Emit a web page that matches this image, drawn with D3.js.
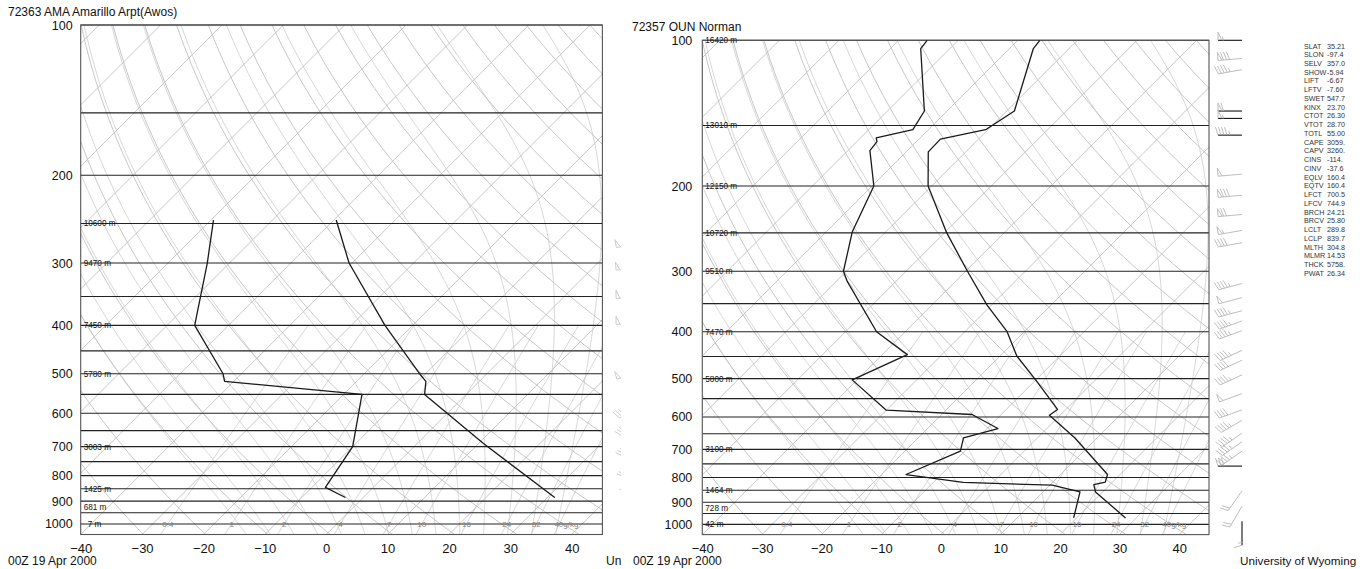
<!DOCTYPE html>
<html><head><meta charset="utf-8">
<script src="https://cdn.jsdelivr.net/npm/d3@7"></script>
<style>body{margin:0;background:#fff}svg{display:block;font-family:"Liberation Sans",Arial,Helvetica,sans-serif}</style>
</head><body><script>
// ---------------- DATA ----------------
const pressureTicks = [100, 200, 300, 400, 500, 600, 700, 800, 900, 1000];
const tempTicks = [-40, -30, -20, -10, 0, 10, 20, 30, 40];
const isobarLevels = [100, 150, 200, 250, 300, 350, 400, 450, 500, 550, 600, 650, 700, 750, 800, 850, 900, 950, 1000];
const mixingRatios = [0.4, 1, 2, 4, 7, 10, 16, 24, 32, 40];
const mixingLabels = ["0.4", "1", "2", "4", "7", "10", "16", "24", "32", "40g/kg"];

// Amarillo (72363)
const amaTitle = "72363 AMA Amarillo Arpt(Awos)";
const amaTempP = [246, 300, 400, 503, 518, 550, 690, 885];
const amaTempT = [-49.6, -40.5, -24.5, -10.6, -8.7, -6.8, 10.8, 31.2];
const amaDewP = [246, 300, 400, 500, 518, 550, 700, 845, 885];
const amaDewT = [-69.6, -63.6, -55.5, -43.0, -41.5, -17.0, -10.0, -7.8, -2.9];
const amaHgtP = [250, 300, 400, 500, 700, 850, 925, 1000];
const amaHgt = ["10600 m", "9470 m", "7450 m", "5780 m", "3003 m", "1425 m", "681 m", "7 m"];
const amaWindP = [274, 307, 353, 398, 498, 580, 620, 677, 740, 781, 846, 898];
const amaWindDir = [260, 265, 270, 270, 255, 240, 230, 225, 220, 210, 200, 190];
const amaWindSpd = [50, 50, 50, 50, 50, 45, 40, 35, 30, 25, 20, 20];

// Norman (72357)
const ounTitle = "72357 OUN Norman";
const ounTempP = [100, 104, 140, 153, 160, 170, 200, 250, 300, 352, 400, 449, 504, 579, 595, 663, 789, 818, 828, 857, 970];
const ounTempT = [-66.3, -66.0, -58.7, -60.4, -66.4, -66.3, -60.6, -49.6, -39.7, -30.8, -22.9, -17.2, -9.9, -1.4, -1.8, 6.3, 17.9, 18.8, 17.3, 18.8, 28.2];
const ounDewP = [100, 104, 140, 153, 159, 162, 169, 200, 249, 300, 314, 400, 446, 503, 581, 593, 634, 663, 706, 789, 819, 830, 857, 970];
const ounDewT = [-85.2, -84.9, -73.8, -72.6, -77.4, -76.6, -76.3, -69.7, -65.6, -60.5, -58.3, -44.8, -35.8, -40.8, -30.0, -14.9, -8.2, -12.4, -10.7, -15.9, -5.0, 10.4, 16.2, 19.5];
const ounHgtP = [100, 150, 200, 250, 300, 400, 500, 700, 850, 925, 1000];
const ounHgt = ["16420 m", "13010 m", "12150 m", "10720 m", "9510 m", "7470 m", "5800 m", "3100 m", "1464 m", "728 m", "42 m"];
const ounWindP = [100, 109, 115, 140, 145, 157, 189, 209, 229, 247, 262, 318, 340, 362, 380, 398, 437, 458, 491, 537, 580, 610, 648, 675, 706, 758, 853, 917, 985];
const ounWindDir = [270, 265, 260, 270, 270, 270, 265, 265, 265, 260, 260, 255, 255, 255, 250, 250, 245, 245, 245, 250, 250, 240, 235, 235, 235, 270, 215, 210, 180];
const ounWindSpd = [55, 80, 45, 60, 55, 45, 50, 80, 70, 55, 40, 45, 50, 45, 45, 45, 45, 40, 45, 50, 40, 45, 45, 45, 45, 30, 20, 20, 15];

const idxNames = ["SLAT","SLON","SELV","SHOW","LIFT","LFTV","SWET","KINX","CTOT","VTOT","TOTL","CAPE","CAPV","CINS","CINV","EQLV","EQTV","LFCT","LFCV","BRCH","BRCV","LCLT","LCLP","MLTH","MLMR","THCK","PWAT"];
const idxValues = ["35.21","-97.4","357.0","-5.94","-6.67","-7.60","547.7","23.70","26.30","28.70","55.00","3059.","3260.","-114.","-37.6","160.4","160.4","700.5","744.9","24.21","25.80","289.8","839.7","304.8","14.53","5758.","26.34"];

const dateText = "00Z 19 Apr 2000";
const creditText = "University of Wyoming";
const creditCut = "Un";

// ---------------- PHYSICS HELPERS ----------------
const Rd = 287.04, Cp = 1005.7, Lv = 2.501e6, EPS = 0.622;
function esat(Tc) { return 6.112 * Math.exp(17.67 * Tc / (Tc + 243.5)); }
function dTdp(p, T) {
  const Tc = T - 273.15, es = esat(Tc), rs = EPS * es / (p - es);
  return (Rd * T + Lv * rs) / (p * (Cp + Lv * Lv * rs * EPS / (Rd * T * T)));
}
function moistPath(T0) {
  const up = [], down = [];
  let p = 1000, T = T0 + 273.15;
  up.push([p, T0]);
  while (p > 100) { const h = -5; const k1 = dTdp(p, T); const k2 = dTdp(p + h / 2, T + k1 * h / 2); T += k2 * h; p += h; up.push([p, T - 273.15]); }
  p = 1000; T = T0 + 273.15;
  while (p < 1050) { const h = 5; const k1 = dTdp(p, T); const k2 = dTdp(p + h / 2, T + k1 * h / 2); T += k2 * h; p += h; down.push([p, T - 273.15]); }
  return down.reverse().concat(up);
}
function tdFromW(w, p) { const e = w * p / (622 + w); const l = Math.log(e / 6.112); return 243.5 * l / (17.67 - l); }

// ---------------- DRAW ----------------
const W = 1364, H = 569;
const svg = d3.select("body").append("svg").attr("width", W).attr("height", H);
svg.append("rect").attr("width", W).attr("height", H).attr("fill", "#fff");
const defs = svg.append("defs");

function barb(g, sx, sy, dir, spd, color, dark) {
  const L = 24, bl = 8;
  const rad = dir * Math.PI / 180;
  const ux = Math.sin(rad), uy = -Math.cos(rad);
  const px = -uy, py = ux;
  const tx = sx + ux * L, ty = sy + uy * L;
  g.append("line").attr("x1", sx).attr("y1", sy).attr("x2", tx).attr("y2", ty)
    .attr("stroke", dark ? "#111" : color).attr("stroke-width", dark ? 1.1 : 0.9);
  let rem = Math.round(spd / 5) * 5, pos = 0;
  while (rem >= 50) {
    const ax = tx - ux * pos, ay = ty - uy * pos;
    const bx = tx - ux * (pos + 4), by = ty - uy * (pos + 4);
    g.append("path").attr("d", `M${ax},${ay}L${ax + px * bl},${ay + py * bl}L${bx},${by}`)
      .attr("fill", "none").attr("stroke", color).attr("stroke-width", 0.9);
    pos += 5.5; rem -= 50;
  }
  while (rem >= 10) {
    const ax = tx - ux * pos, ay = ty - uy * pos;
    g.append("line").attr("x1", ax).attr("y1", ay).attr("x2", ax + px * bl + ux * 2.5).attr("y2", ay + py * bl + uy * 2.5)
      .attr("stroke", color).attr("stroke-width", 0.9);
    pos += 3; rem -= 10;
  }
  if (rem >= 5) {
    if (pos === 0) pos = 3;
    const ax = tx - ux * pos, ay = ty - uy * pos;
    g.append("line").attr("x1", ax).attr("y1", ay).attr("x2", ax + px * bl / 2 + ux * 1.2).attr("y2", ay + py * bl / 2 + uy * 1.2)
      .attr("stroke", color).attr("stroke-width", 0.9);
  }
}

function drawPanel(g, cfg, d) {
  const y = d3.scaleLog().domain([100, 1050]).range([cfg.yTop, cfg.yBot]);
  const x = d3.scaleLinear().domain([-40, 45]).range([cfg.x0, cfg.x1]);
  const X = (T, p) => x(T) + (cfg.yBot - y(p));
  const line = d3.line().x(v => X(v[1], v[0])).y(v => y(v[0]));
  const cid = "clip-" + cfg.id;
  defs.append("clipPath").attr("id", cid).append("rect")
    .attr("x", cfg.x0).attr("y", cfg.yTop).attr("width", cfg.x1 - cfg.x0).attr("height", cfg.yBot - cfg.yTop);
  const grid = g.append("g").attr("clip-path", `url(#${cid})`).attr("fill", "none");
  const plevs = d3.range(1050, 100, -10).concat([100]);

  // moist adiabats
  d3.range(-16, 37, 4).forEach(t0 => {
    grid.append("path").attr("d", line(moistPath(t0))).attr("stroke", "#cdcdcd").attr("stroke-width", 0.8);
  });
  // mixing ratio lines
  mixingRatios.forEach(w => {
    const pts = d3.range(1050, 399, -10).map(p => [p, tdFromW(w, p)]);
    grid.append("path").attr("d", line(pts)).attr("stroke", "#cdcdcd").attr("stroke-width", 0.8);
  });
  // dry adiabats
  d3.range(230, 481, 10).forEach(th => {
    const pts = plevs.map(p => [p, th * Math.pow(p / 1000, 0.2857) - 273.15]);
    grid.append("path").attr("d", line(pts)).attr("stroke", "#bdbdbd").attr("stroke-width", 0.85);
  });
  // isotherms
  d3.range(-130, 50, 10).forEach(T => {
    grid.append("path").attr("d", line([[1050, T], [100, T]])).attr("stroke", "#bdbdbd").attr("stroke-width", 0.85);
  });
  // isobars
  isobarLevels.forEach(p => {
    g.append("line").attr("x1", cfg.x0).attr("x2", cfg.x1).attr("y1", y(p)).attr("y2", y(p))
      .attr("stroke", "#222").attr("stroke-width", 1.1);
  });
  // frame
  g.append("rect").attr("x", cfg.x0).attr("y", cfg.yTop).attr("width", cfg.x1 - cfg.x0).attr("height", cfg.yBot - cfg.yTop)
    .attr("fill", "none").attr("stroke", "#555").attr("stroke-width", 1.1);

  // height labels
  d.hgtP.forEach((p, i) => {
    g.append("text").attr("x", cfg.x0 + 3 + (d.hgt[i].length <= 3 ? 4 : 0)).attr("y", y(p)).attr("dy", "0.35em")
      .attr("font-size", 8.2).attr("fill", "#111").text(d.hgt[i]);
  });
  // mixing ratio labels
  mixingRatios.forEach((w, i) => {
    const t = g.append("text").attr("y", y(1000)).attr("dy", "0.35em").attr("font-size", 8).attr("fill", "#858585");
    const xc = X(tdFromW(w, 1000), 1000);
    if (i === mixingRatios.length - 1) t.attr("x", xc - 5).attr("text-anchor", "start");
    else t.attr("x", xc).attr("text-anchor", "middle");
    t.text(mixingLabels[i]);
  });

  // profiles
  const prof = g.append("g").attr("fill", "none").attr("stroke", "#1a1a1a").attr("stroke-width", 1.3).attr("stroke-linejoin", "round");
  prof.append("path").attr("d", line(d.tempP.map((p, i) => [p, d.tempT[i]])));
  prof.append("path").attr("d", line(d.dewP.map((p, i) => [p, d.dewT[i]])));

  // axes
  const ay = g.append("g").attr("transform", `translate(${cfg.x0},0)`)
    .call(d3.axisLeft(y).tickValues(pressureTicks).tickFormat(d3.format("d")).tickSize(0).tickPadding(cfg.ypad));
  ay.select(".domain").remove();
  ay.selectAll("text").attr("font-size", 12.5).attr("fill", "#111").attr("font-family", null);
  const ax = g.append("g").attr("transform", `translate(0,${cfg.yBot})`)
    .call(d3.axisBottom(x).tickValues(tempTicks).tickSize(0).tickPadding(9));
  ax.select(".domain").remove();
  ax.selectAll("text").attr("font-size", 13).attr("fill", "#111").attr("font-family", null);

  // winds
  const wg = g.append("g");
  d.windP.forEach((p, i) => {
    barb(wg, cfg.windX, y(p), d.windDir[i], d.windSpd[i], cfg.windColor, cfg.darkWind && cfg.darkWind.has(p));
  });
  return { x, y, X };
}

// left panel (clipped by right one)
defs.append("clipPath").attr("id", "leftClip").append("rect").attr("x", 0).attr("y", 0).attr("width", 621).attr("height", H);
const gL = svg.append("g").attr("clip-path", "url(#leftClip)");
drawPanel(gL, { id: "ama", x0: 80.7, x1: 602.4, yTop: 25, yBot: 534.5, ypad: 8, windX: 640, windColor: "#c6c6c6" },
  { tempP: amaTempP, tempT: amaTempT, dewP: amaDewP, dewT: amaDewT, hgtP: amaHgtP, hgt: amaHgt,
    windP: amaWindP, windDir: amaWindDir, windSpd: amaWindSpd });
gL.append("text").attr("x", 8).attr("y", 16).attr("font-size", 12).attr("fill", "#111").text(amaTitle);
gL.append("text").attr("x", 8).attr("y", 565).attr("font-size", 12).attr("fill", "#111").text(dateText);
gL.append("text").attr("x", 606).attr("y", 565).attr("font-size", 12).attr("fill", "#111").text(creditCut);

// right panel
const gR = svg.append("g");
drawPanel(gR, { id: "oun", x0: 702.3, x1: 1209, yTop: 40.3, yBot: 534.6, ypad: 10, windX: 1242, windColor: "#b5b5b5",
    darkWind: new Set([100, 140, 145, 157, 758, 985]) },
  { tempP: ounTempP, tempT: ounTempT, dewP: ounDewP, dewT: ounDewT, hgtP: ounHgtP, hgt: ounHgt,
    windP: ounWindP, windDir: ounWindDir, windSpd: ounWindSpd });
gR.append("text").attr("x", 632).attr("y", 31).attr("font-size", 12).attr("fill", "#111").text(ounTitle);
gR.append("text").attr("x", 633).attr("y", 565).attr("font-size", 12).attr("fill", "#111").text(dateText);
gR.append("text").attr("x", 1240).attr("y", 565).attr("font-size", 11.7).attr("fill", "#111").text(creditText);

// stability indices
const idx = svg.append("g").attr("font-size", 7.2).attr("fill", "#333");
idxNames.forEach((n, i) => {
  const yy = 48.5 + i * 8.74;
  idx.append("text").attr("x", 1304).attr("y", yy).text(n);
  idx.append("text").attr("x", 1327).attr("y", yy).text(idxValues[i]);
});
</script></body></html>
